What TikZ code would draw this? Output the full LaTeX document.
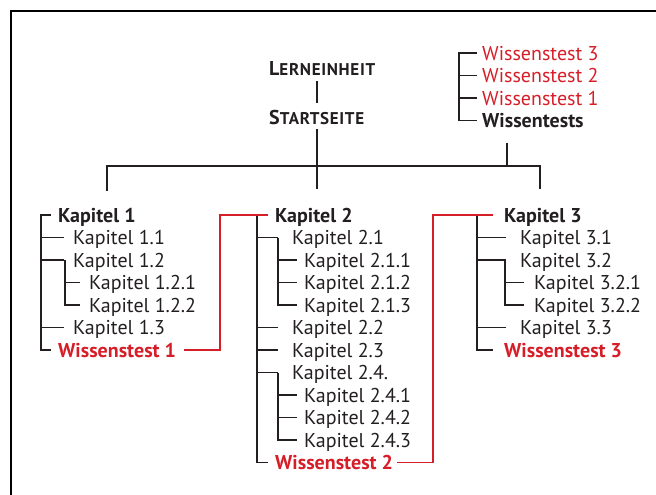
\documentclass[tikz,border=0pt]{standalone}
\usepackage{fontspec}
\setmainfont{PT Sans}
\definecolor{wtred}{RGB}{214,30,40}
\definecolor{txt}{RGB}{35,31,32}
\newcommand{\smallcap}[2]{#1{\fontsize{17}{20}\selectfont\addfontfeature{LetterSpace=4}#2}}
\begin{document}
\begin{tikzpicture}[x=1pt,y=-1pt,
    every node/.style={anchor=west,inner sep=0pt,text height=14pt,text depth=0pt,
      font=\fontsize{20}{23}\selectfont,text=txt},
    bold/.style={font=\fontsize{20}{23}\selectfont\bfseries},
    wt/.style={bold,text=wtred},
    tree/.style={line width=1.5pt,draw=txt},
    redline/.style={line width=1.5pt,draw=wtred}]
    \useasboundingbox (0,0) rectangle (656,495);
    \draw[line width=1.2pt] (11,495) -- (11,11) -- (656,11);
    \node[bold] (lern) at (269,68) {\smallcap{L}{ERNEINHEIT}};
    \node[bold] (start) at (269,117) {\smallcap{S}{TARTSEITE}};
    \node[text=wtred] (ws3) at (482,53) {Wissenstest 3};
    \node[text=wtred] (ws2) at (482,75.5) {Wissenstest 2};
    \node[text=wtred] (ws1) at (482,98) {Wissenstest 1};
    \node[bold] (wtests) at (482,120.5) {Wissentests};
    \node[bold] (kap1) at (58,215) {Kapitel 1};
    \node[bold] (kap2) at (275,215) {Kapitel 2};
    \node[bold] (kap3) at (504,215) {Kapitel 3};
    \foreach \n/\x/\y/\t in {kap11/73/237.5/1.1, kap12/73/260/1.2, kap121/89/282.5/1.2.1,
      kap122/89/305/1.2.2, kap13/73/327.5/1.3,
      kap21/292/237.5/2.1, kap211/304/260/2.1.1, kap212/304/282.5/2.1.2, kap213/304/305/2.1.3,
      kap22/292/327.5/2.2, kap23/292/350/2.3, kap24/292/372.5/2.4., kap241/304/395/2.4.1,
      kap242/304/417.5/2.4.2, kap243/304/440/2.4.3,
      kap31/520/237.5/3.1, kap32/520/260/3.2, kap321/534/282.5/3.2.1, kap322/534/305/3.2.2,
      kap33/520/327.5/3.3}
    {
    \node (\n) at (\x,\y) {Kapitel \t};
    }
    \node[wt] (wt1) at (58,350) {Wissenstest 1};
    \node[wt] (wt2) at (275,462.5) {Wissenstest 2};
    \node[wt] (wt3) at (504,350) {Wissenstest 3};
    \coordinate (hub) at (317,166);
    \coordinate (b1) at (107,191);
    \coordinate (b2) at (317,189);
    \coordinate (b3) at (540,189);
    \coordinate (b4) at (507,166);
    \draw[tree,shorten <=6pt,shorten >=7pt] (hub |- lern.south) -- (hub |- start.north);
    \draw[tree,shorten <=5pt] (hub |- start.south) -- (b2);
    \draw[tree] (b1) |- (hub) -| (b3);
    \draw[tree,shorten <=15pt] (b4 |- wtests.south) -- (b4);
    \draw[tree] ([xshift=-5pt]ws3.west) -| ([xshift=-23pt]wtests.west) -- ([xshift=-5pt]wtests.west);
    \foreach \n in {ws2,ws1}
    {
    \draw[tree] ([xshift=-5pt]\n.west) -- ([xshift=-23pt]\n.west);
    }
    \draw[tree] ([xshift=-7pt]kap1.west) -| ([xshift=-17pt]wt1.west) -- ([xshift=-7pt]wt1.west);
    \foreach \n in {kap11,kap12,kap13}
    {
    \draw[tree] ([xshift=-9pt]\n.west) -- ([xshift=-32pt]\n.west);
    }
    \draw[tree] ([xshift=-8pt]kap12.west) |- ([xshift=-9pt]kap122.west);
    \draw[tree] ([xshift=-24pt]kap121.west) -- ([xshift=-9pt]kap121.west);
    \draw[tree] ([xshift=-7pt]kap2.west) -| ([xshift=-18pt]wt2.west) -- ([xshift=-7pt]wt2.west);
    \foreach \n in {kap21,kap22,kap23,kap24}
    {
    \draw[tree] ([xshift=-14pt]\n.west) -- ([xshift=-35pt]\n.west);
    }
    \draw[tree] ([xshift=-14pt]kap21.west) |- ([xshift=-7pt]kap213.west);
    \draw[tree] ([xshift=-14pt]kap24.west) |- ([xshift=-7pt]kap243.west);
    \foreach \n in {kap211,kap212,kap241,kap242}
    {
    \draw[tree] ([xshift=-7pt]\n.west) -- ([xshift=-26pt]\n.west);
    }
    \draw[tree] ([xshift=-11pt]kap3.west) -| ([xshift=-27pt]wt3.west) -- ([xshift=-11pt]wt3.west);
    \foreach \n in {kap31,kap32,kap33}
    {
    \draw[tree] ([xshift=-14pt]\n.west) -- ([xshift=-43pt]\n.west);
    }
    \draw[tree] ([xshift=-15pt]kap32.west) |- ([xshift=-10pt]kap322.west);
    \draw[tree] ([xshift=-10pt]kap321.west) -- ([xshift=-29pt]kap321.west);
    \draw[redline] ([xshift=8pt]wt1.east) -| ([xshift=-55pt]kap2.west) -- ([xshift=-7pt]kap2.west);
    \draw[redline] ([xshift=4pt]wt2.east) -| ([xshift=-71pt]kap3.west) -- ([xshift=-11pt]kap3.west);
\end{tikzpicture}
\end{document}
